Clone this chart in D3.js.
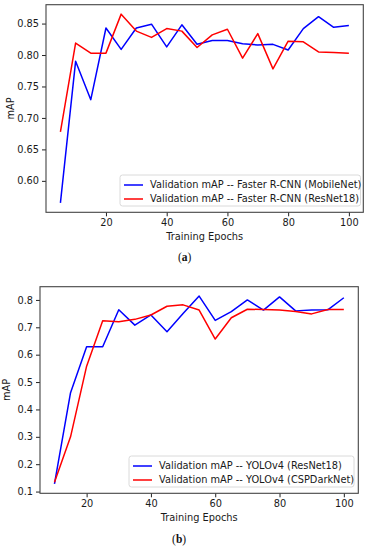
<!DOCTYPE html>
<html>
<head>
<meta charset="utf-8">
<script src="https://cdn.jsdelivr.net/npm/d3@7"></script>
<style>
  body { margin: 0; background: #fff; }
  svg { display: block; }
  .tick text { font-family: "DejaVu Sans", sans-serif; font-size: 9.8px; fill: #1a1a1a; }
</style>
</head>
<body>
<svg id="chart" width="370" height="550"></svg>
<script>
// --- data ---
var epochsA = [5,10,15,20,25,30,35,40,45,50,55,60,65,70,75,80,85,90,95,100];
var mobileNetA = [0.565,0.790,0.729,0.843,0.809,0.843,0.849,0.813,0.848,0.817,0.823,0.823,0.818,0.816,0.817,0.808,0.842,0.861,0.844,0.847];
var resNet18A = [0.678,0.819,0.803,0.803,0.865,0.838,0.828,0.842,0.838,0.812,0.832,0.841,0.795,0.834,0.778,0.822,0.821,0.805,0.804,0.803];
var labelsA = ["Validation mAP -- Faster R-CNN (MobileNet)", "Validation mAP -- Faster R-CNN (ResNet18)"];
var yTicksA = [0.60, 0.65, 0.70, 0.75, 0.80, 0.85];

var epochsB = [10,15,20,25,30,35,40,45,50,55,60,65,70,75,80,85,90,95,100];
var resNet18B = [0.128,0.461,0.629,0.629,0.764,0.708,0.745,0.684,0.750,0.814,0.725,0.757,0.800,0.763,0.811,0.760,0.763,0.764,0.808];
var cspDarkNetB = [0.134,0.300,0.558,0.724,0.720,0.729,0.745,0.777,0.782,0.763,0.657,0.735,0.766,0.765,0.763,0.758,0.749,0.765,0.765];
var labelsB = ["Validation mAP -- YOLOv4 (ResNet18)", "Validation mAP -- YOLOv4 (CSPDarkNet)"];
var yTicksB = [0.1, 0.2, 0.3, 0.4, 0.5, 0.6, 0.7, 0.8];

var xTicks = [20, 40, 60, 80, 100];
var colors = ["#0000ff", "#ff0000"];
var fontSize = "9.8px";

var svg = d3.select("#chart");

// matplotlib style 5% margins around the data
function padded(vals) {
    var ext = d3.extent(vals), p = (ext[1] - ext[0]) * 0.05;
    return [ext[0] - p, ext[1] + p];
}

function drawPanel(cfg) {
    var x = d3.scaleLinear().domain(padded(cfg.epochs)).range([cfg.left, cfg.right]);
    var y = d3.scaleLinear().domain(padded(cfg.series[0].concat(cfg.series[1]))).range([cfg.bottom, cfg.top]);

    var g = svg.append("g");

    g.append("g")
        .attr("transform", "translate(0," + cfg.bottom + ")")
        .call(d3.axisBottom(x).tickValues(xTicks).tickSize(4).tickPadding(3))
        .call(function(a) { a.select(".domain").remove(); a.selectAll("line").attr("stroke", "#222"); });

    g.append("g")
        .attr("transform", "translate(" + cfg.left + ",0)")
        .call(d3.axisLeft(y).tickValues(cfg.yTicks).tickFormat(d3.format(cfg.yFmt)).tickSize(4).tickPadding(3))
        .call(function(a) { a.select(".domain").remove(); a.selectAll("line").attr("stroke", "#222"); });

    var line = d3.line()
        .x(function(d, i) { return x(cfg.epochs[i]); })
        .y(function(d) { return y(d); });

    // clip so lines stay in frame
    var clipId = "clip" + cfg.name;
    g.append("clipPath").attr("id", clipId).append("rect")
        .attr("x", cfg.left).attr("y", cfg.top)
        .attr("width", cfg.right - cfg.left).attr("height", cfg.bottom - cfg.top);

    cfg.series.forEach(function(s, k) {
        g.append("path")
            .datum(s)
            .attr("clip-path", "url(#" + clipId + ")")
            .attr("fill", "none")
            .attr("stroke", colors[k])
            .attr("stroke-width", 1.5)
            .attr("stroke-linejoin", "round")
            .attr("d", line);
    });

    // frame
    g.append("rect")
        .attr("x", cfg.left).attr("y", cfg.top)
        .attr("width", cfg.right - cfg.left).attr("height", cfg.bottom - cfg.top)
        .attr("fill", "none").attr("stroke", "#444").attr("stroke-width", 1.1);

    // legend
    var lg = g.append("g");
    lg.append("rect")
        .attr("x", cfg.legend.x).attr("y", cfg.legend.y)
        .attr("width", cfg.legend.w).attr("height", cfg.legend.h)
        .attr("rx", 2.5)
        .attr("fill", "#fff").attr("fill-opacity", 0.8)
        .attr("stroke", "#d0d0d0").attr("stroke-width", 0.8);
    cfg.labels.forEach(function(t, k) {
        var ry = cfg.legend.y + 10 + k * 14;
        lg.append("line")
            .attr("x1", cfg.legend.x + 4).attr("x2", cfg.legend.x + 23)
            .attr("y1", ry).attr("y2", ry)
            .attr("stroke", colors[k]).attr("stroke-width", 1.5);
        lg.append("text")
            .attr("x", cfg.legend.x + 30).attr("y", ry)
            .attr("dy", "0.35em")
            .attr("font-family", "DejaVu Sans, sans-serif")
            .attr("font-size", fontSize)
            .attr("fill", "#1a1a1a")
            .text(t);
    });

    // axis titles
    g.append("text")
        .attr("x", (cfg.left + cfg.right) / 2).attr("y", cfg.bottom + 28)
        .attr("text-anchor", "middle")
        .attr("font-family", "DejaVu Sans, sans-serif").attr("font-size", fontSize).attr("fill", "#1a1a1a")
        .text("Training Epochs");

    g.append("text")
        .attr("transform", "translate(" + cfg.yLabelX + "," + ((cfg.top + cfg.bottom) / 2) + ") rotate(-90)")
        .attr("text-anchor", "middle")
        .attr("font-family", "DejaVu Sans, sans-serif").attr("font-size", fontSize).attr("fill", "#1a1a1a")
        .text("mAP");

    // caption
    var cap = g.append("text")
        .attr("x", (cfg.left + cfg.right) / 2 - 20).attr("y", cfg.captionY)
        .attr("text-anchor", "middle")
        .attr("font-family", "Liberation Serif, serif").attr("font-size", "11.5px").attr("fill", "#111");
    cap.append("tspan").text("(");
    cap.append("tspan").attr("font-weight", "bold").text(cfg.name);
    cap.append("tspan").text(")");
}

drawPanel({
    name: "a",
    epochs: epochsA, series: [mobileNetA, resNet18A], labels: labelsA,
    yTicks: yTicksA, yFmt: ".2f",
    left: 46, right: 363.3, top: 4.7, bottom: 212.3,
    legend: { x: 120, y: 175, w: 240.5, h: 31 },
    yLabelX: 14, captionY: 261
});

drawPanel({
    name: "b",
    epochs: epochsB, series: [resNet18B, cspDarkNetB], labels: labelsB,
    yTicks: yTicksB, yFmt: ".1f",
    left: 40, right: 358.3, top: 286.7, bottom: 493.3,
    legend: { x: 129, y: 456, w: 225, h: 31 },
    yLabelX: 10, captionY: 543
});
</script>
</body>
</html>
